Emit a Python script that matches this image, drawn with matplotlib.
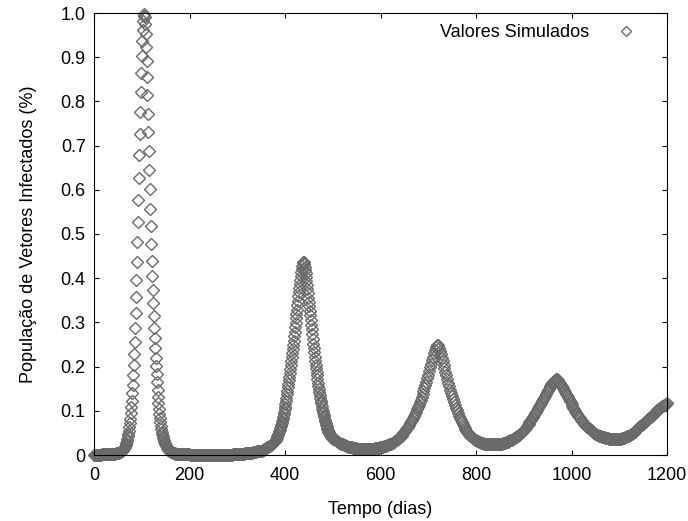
import numpy as np
import matplotlib.pyplot as plt

plt.rcParams['font.family'] = ['Liberation Sans', 'DejaVu Sans']

# fraction of infected vectors
# (start day, step in days, values)
inicio_a, passo_a = 0, 2
infectados_a = [
    0.000, 0.001, 0.001, 0.001, 0.001, 0.001, 0.001, 0.001, 0.002, 0.002,
    0.002, 0.002, 0.002, 0.002, 0.002, 0.002, 0.002, 0.003, 0.003, 0.003,
    0.003, 0.003, 0.003, 0.004, 0.004, 0.004, 0.005, 0.006, 0.007]

# first peak, daily (day 57 - 175)
inicio_b, passo_b = 57, 1
infectados_b = [
    0.008, 0.009, 0.010, 0.011, 0.012, 0.013, 0.015, 0.017, 0.019, 0.022,
    0.025, 0.028, 0.032, 0.037, 0.042, 0.048, 0.055, 0.063, 0.072, 0.082,
    0.094, 0.108, 0.123, 0.141, 0.159, 0.180, 0.203, 0.228, 0.256, 0.287,
    0.321, 0.357, 0.397, 0.437, 0.481, 0.527, 0.576, 0.627, 0.678, 0.727,
    0.775, 0.822, 0.864, 0.902, 0.936, 0.962, 0.981, 0.993, 0.997, 0.990,
    0.976, 0.953, 0.924, 0.892, 0.855, 0.814, 0.772, 0.731, 0.688, 0.645,
    0.601, 0.557, 0.517, 0.478, 0.440, 0.406, 0.374, 0.344, 0.315, 0.288,
    0.264, 0.241, 0.220, 0.201, 0.183, 0.165, 0.148, 0.132, 0.117, 0.104,
    0.093, 0.083, 0.074, 0.066, 0.059, 0.053, 0.047, 0.042, 0.038, 0.034,
    0.030, 0.027, 0.024, 0.022, 0.020, 0.018, 0.016, 0.014, 0.013, 0.012,
    0.011, 0.010, 0.009, 0.008, 0.007, 0.007, 0.006, 0.006, 0.005, 0.005,
    0.004, 0.004, 0.004, 0.003, 0.003, 0.003, 0.003, 0.002, 0.002]

# between peaks (day 177 - 379)
inicio_c, passo_c = 177, 2
infectados_c = [
    0.002, 0.002, 0.002, 0.002, 0.002, 0.002, 0.002, 0.002, 0.002, 0.002,
    0.002, 0.002, 0.001, 0.001, 0.001, 0.001, 0.001, 0.001, 0.001, 0.001,
    0.001, 0.001, 0.001, 0.001, 0.001, 0.001, 0.001, 0.001, 0.001, 0.001,
    0.001, 0.001, 0.001, 0.001, 0.001, 0.001, 0.001, 0.001, 0.001, 0.001,
    0.001, 0.001, 0.001, 0.001, 0.001, 0.001, 0.001, 0.001, 0.001, 0.001,
    0.001, 0.001, 0.001, 0.001, 0.001, 0.001, 0.001, 0.002, 0.002, 0.002,
    0.002, 0.002, 0.002, 0.002, 0.003, 0.003, 0.003, 0.003, 0.003, 0.003,
    0.004, 0.004, 0.004, 0.004, 0.004, 0.005, 0.005, 0.005, 0.006, 0.006,
    0.007, 0.007, 0.008, 0.008, 0.009, 0.009, 0.010, 0.010, 0.011, 0.012,
    0.013, 0.014, 0.016, 0.017, 0.018, 0.020, 0.021, 0.023, 0.025, 0.027,
    0.029, 0.031]

# second peak, daily (day 380 - 499)
inicio_d, passo_d = 380, 1
infectados_d = [
    0.032, 0.034, 0.037, 0.039, 0.042, 0.045, 0.048, 0.051, 0.054, 0.057,
    0.061, 0.065, 0.068, 0.072, 0.077, 0.082, 0.087, 0.092, 0.097, 0.103,
    0.109, 0.115, 0.122, 0.129, 0.137, 0.145, 0.153, 0.161, 0.169, 0.177,
    0.185, 0.194, 0.203, 0.212, 0.221, 0.230, 0.239, 0.249, 0.259, 0.269,
    0.279, 0.289, 0.299, 0.309, 0.319, 0.329, 0.339, 0.349, 0.359, 0.368,
    0.377, 0.386, 0.395, 0.404, 0.413, 0.421, 0.428, 0.434, 0.437, 0.436,
    0.432, 0.426, 0.419, 0.411, 0.403, 0.394, 0.385, 0.376, 0.366, 0.356,
    0.346, 0.336, 0.326, 0.316, 0.306, 0.295, 0.284, 0.273, 0.262, 0.252,
    0.242, 0.232, 0.222, 0.213, 0.204, 0.196, 0.188, 0.180, 0.172, 0.164,
    0.157, 0.150, 0.143, 0.136, 0.129, 0.123, 0.117, 0.111, 0.105, 0.100,
    0.095, 0.090, 0.085, 0.080, 0.076, 0.072, 0.068, 0.065, 0.062, 0.059,
    0.056, 0.053, 0.051, 0.049, 0.047, 0.045, 0.043, 0.041, 0.039, 0.038]

# rest of the run (day 500 - 1200)
inicio_e, passo_e = 500, 2
infectados_e = [
    0.037, 0.036, 0.034, 0.033, 0.032, 0.030, 0.029, 0.028, 0.027, 0.026,
    0.025, 0.024, 0.023, 0.022, 0.021, 0.020, 0.019, 0.019, 0.018, 0.017,
    0.017, 0.016, 0.016, 0.015, 0.015, 0.014, 0.014, 0.014, 0.013, 0.013,
    0.013, 0.013, 0.013, 0.013, 0.013, 0.013, 0.013, 0.013, 0.013, 0.013,
    0.014, 0.014, 0.014, 0.014, 0.015, 0.015, 0.015, 0.016, 0.016, 0.017,
    0.017, 0.018, 0.018, 0.019, 0.020, 0.020, 0.021, 0.022, 0.023, 0.024,
    0.025, 0.026, 0.027, 0.028, 0.030, 0.031, 0.033, 0.034, 0.036, 0.038,
    0.040, 0.042, 0.044, 0.047, 0.049, 0.052, 0.055, 0.058, 0.061, 0.064,
    0.068, 0.072, 0.076, 0.080, 0.084, 0.088, 0.093, 0.098, 0.103, 0.108,
    0.113, 0.119, 0.125, 0.131, 0.138, 0.145, 0.152, 0.159, 0.166, 0.174,
    0.182, 0.190, 0.198, 0.206, 0.214, 0.222, 0.230, 0.238, 0.245, 0.249,
    0.248, 0.243, 0.236, 0.228, 0.220, 0.212, 0.204, 0.196, 0.188, 0.180,
    0.172, 0.164, 0.156, 0.148, 0.141, 0.134, 0.127, 0.120, 0.113, 0.107,
    0.101, 0.095, 0.089, 0.084, 0.079, 0.074, 0.070, 0.066, 0.062, 0.058,
    0.055, 0.052, 0.049, 0.046, 0.044, 0.042, 0.040, 0.038, 0.036, 0.035,
    0.033, 0.032, 0.031, 0.030, 0.029, 0.028, 0.027, 0.027, 0.026, 0.026,
    0.025, 0.025, 0.025, 0.024, 0.024, 0.024, 0.024, 0.024, 0.024, 0.024,
    0.024, 0.024, 0.024, 0.025, 0.025, 0.025, 0.026, 0.026, 0.027, 0.027,
    0.028, 0.029, 0.029, 0.030, 0.031, 0.032, 0.033, 0.034, 0.035, 0.036,
    0.038, 0.039, 0.041, 0.042, 0.044, 0.046, 0.048, 0.050, 0.052, 0.054,
    0.057, 0.059, 0.062, 0.065, 0.068, 0.071, 0.074, 0.077, 0.080, 0.084,
    0.087, 0.091, 0.094, 0.098, 0.102, 0.106, 0.110, 0.114, 0.118, 0.122,
    0.126, 0.130, 0.134, 0.138, 0.142, 0.146, 0.150, 0.154, 0.157, 0.160,
    0.163, 0.166, 0.168, 0.170, 0.171, 0.171, 0.169, 0.166, 0.163, 0.159,
    0.155, 0.151, 0.147, 0.143, 0.139, 0.135, 0.131, 0.127, 0.123, 0.119,
    0.115, 0.111, 0.107, 0.103, 0.099, 0.096, 0.092, 0.089, 0.086, 0.083,
    0.080, 0.077, 0.074, 0.071, 0.069, 0.066, 0.064, 0.062, 0.060, 0.058,
    0.056, 0.054, 0.052, 0.051, 0.049, 0.048, 0.047, 0.046, 0.045, 0.044,
    0.043, 0.042, 0.041, 0.040, 0.040, 0.039, 0.039, 0.038, 0.038, 0.037,
    0.037, 0.037, 0.036, 0.036, 0.036, 0.036, 0.036, 0.036, 0.036, 0.036,
    0.036, 0.037, 0.037, 0.038, 0.038, 0.039, 0.040, 0.041, 0.042, 0.043,
    0.044, 0.045, 0.047, 0.048, 0.050, 0.051, 0.053, 0.055, 0.057, 0.059,
    0.061, 0.063, 0.065, 0.067, 0.069, 0.071, 0.073, 0.075, 0.077, 0.079,
    0.081, 0.083, 0.085, 0.087, 0.089, 0.091, 0.093, 0.095, 0.097, 0.099,
    0.101, 0.103, 0.104, 0.106, 0.108, 0.110, 0.111, 0.113, 0.114, 0.116,
    0.117]

segmentos = [
    (inicio_a, passo_a, infectados_a),
    (inicio_b, passo_b, infectados_b),
    (inicio_c, passo_c, infectados_c),
    (inicio_d, passo_d, infectados_d),
    (inicio_e, passo_e, infectados_e),
]

dias = np.concatenate([i + p * np.arange(len(v)) for i, p, v in segmentos])
infectados = np.concatenate([v for i, p, v in segmentos])

cinza = '#6a6a6a'

fig = plt.figure(figsize=(6.88, 5.21), dpi=100)
ax = fig.add_axes([94 / 688, 1 - 455 / 521, 573 / 688, 442 / 521])

ax.plot(dias, infectados, linestyle='none', marker='D', markersize=6.4,
        markerfacecolor='none', markeredgecolor=cinza, markeredgewidth=1.0,
        clip_on=False, label='Valores Simulados')

ax.set_xlim(0, 1200)
ax.set_ylim(0, 1.0)
ax.set_xticks(range(0, 1201, 200))
ax.set_yticks(np.arange(0, 1.01, 0.1))
ax.set_yticklabels(['0'] + ['%.1f' % v for v in np.arange(0.1, 1.01, 0.1)])

ax.tick_params(direction='in', length=3.5, width=0.8, top=True, right=True,
               labelsize=13, colors='black')
ax.tick_params(axis='y', pad=6)
ax.tick_params(axis='x', pad=9)
for s in ax.spines.values():
    s.set_linewidth(0.8)

ax.set_xlabel('Tempo (dias)', fontsize=13, labelpad=12)
ax.set_ylabel('População de Vetores Infectados (%)', fontsize=13, labelpad=17)

ax.legend(loc='upper right', markerfirst=False, frameon=False, fontsize=13,
          bbox_to_anchor=(0.98, 1.012), handlelength=1.5, handletextpad=1.3,
          markerscale=0.85)

fig.savefig('out.png', dpi=100)
